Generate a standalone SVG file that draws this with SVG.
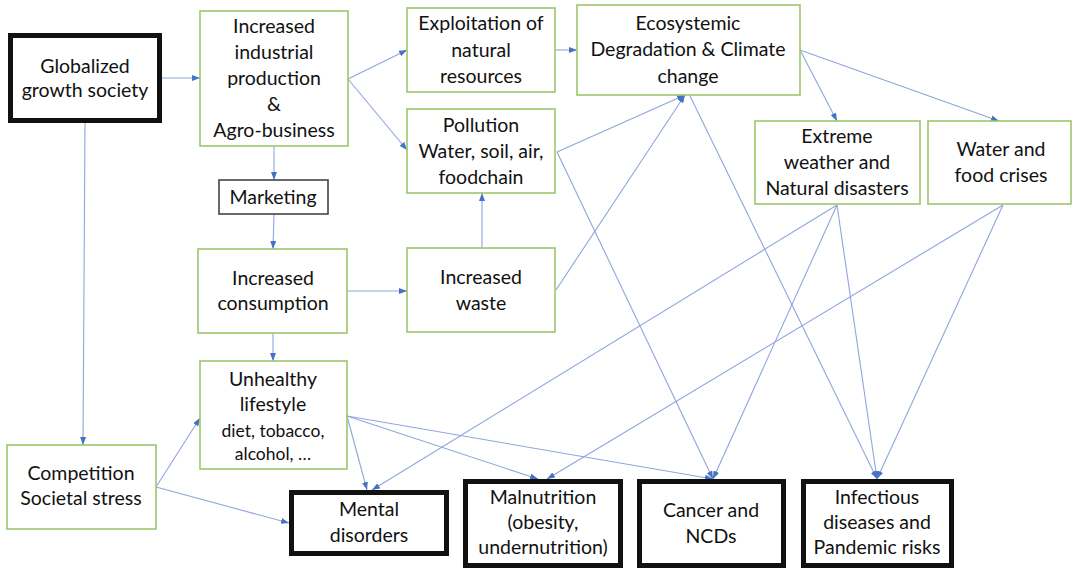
<svg xmlns="http://www.w3.org/2000/svg" width="1073" height="569" viewBox="0 0 1073 569">
<defs>
<marker id="ah" viewBox="0 0 8 6" refX="8" refY="3" markerWidth="8" markerHeight="6" markerUnits="userSpaceOnUse" orient="auto">
<path d="M0,0 L8,3 L0,6 Z" fill="#4472c4"/>
</marker>
</defs>
<style>
.g{fill:#fff;stroke:#9cc66b;stroke-width:1.6}
.k{fill:#fff;stroke:#111;stroke-width:5}
.m{fill:#fff;stroke:#444;stroke-width:1.6}
text{font-family:Lato,"Open Sans","Liberation Sans",sans-serif;font-size:19.5px;fill:#111;text-anchor:middle}
.s{font-size:17.5px}
#connectors line{stroke:#8ea6dd;stroke-width:1.1;fill:none;marker-end:url(#ah)}
</style>
<rect width="1073" height="569" fill="#fff"/>
<g id="connectors">
<line x1="162" y1="78" x2="200" y2="78"/>
<line x1="85" y1="123" x2="83" y2="445"/>
<line x1="348" y1="79" x2="407" y2="50"/>
<line x1="348" y1="79" x2="407" y2="150"/>
<line x1="274" y1="146" x2="274" y2="180"/>
<line x1="274" y1="214" x2="273" y2="249"/>
<line x1="273" y1="333" x2="273" y2="361"/>
<line x1="347" y1="291" x2="407" y2="291"/>
<line x1="482" y1="248" x2="482" y2="193"/>
<line x1="555" y1="50" x2="577" y2="50"/>
<line x1="557" y1="152" x2="685" y2="95"/>
<line x1="556" y1="290" x2="685" y2="95"/>
<line x1="800" y1="50" x2="837" y2="121"/>
<line x1="800" y1="50" x2="999" y2="121"/>
<line x1="690" y1="96" x2="877" y2="479"/>
<line x1="557" y1="152" x2="713" y2="479"/>
<line x1="837" y1="205" x2="372" y2="490"/>
<line x1="837" y1="205" x2="713" y2="479"/>
<line x1="837" y1="205" x2="877" y2="479"/>
<line x1="1003" y1="205" x2="547" y2="479"/>
<line x1="1003" y1="205" x2="877" y2="479"/>
<line x1="347" y1="416" x2="367" y2="490"/>
<line x1="347" y1="416" x2="538" y2="479"/>
<line x1="347" y1="416" x2="713" y2="479"/>
<line x1="156" y1="487" x2="200" y2="418"/>
<line x1="156" y1="487" x2="289" y2="523"/>
</g>
<g id="globalized">
<rect class="k" x="10.5" y="35.5" width="149" height="85"/>
<text x="85" y="73">Globalized</text>
<text x="85" y="97">growth society</text>
</g>
<g id="industrial">
<rect class="g" x="200" y="11" width="148" height="135"/>
<text x="274" y="33">Increased</text>
<text x="274" y="59">industrial</text>
<text x="274" y="85">production</text>
<text x="274" y="111">&amp;</text>
<text x="274" y="137">Agro-business</text>
</g>
<g id="marketing">
<rect class="m" x="219" y="180" width="109" height="34"/>
<text x="273" y="204">Marketing</text>
</g>
<g id="consumption">
<rect class="g" x="198" y="249" width="149" height="84"/>
<text x="273" y="285">Increased</text>
<text x="273" y="310">consumption</text>
</g>
<g id="unhealthy">
<rect class="g" x="200" y="361" width="147" height="108"/>
<text x="273" y="386">Unhealthy</text>
<text x="273" y="411">lifestyle</text>
<text class="s" x="273" y="437">diet, tobacco,</text>
<text class="s" x="273" y="460">alcohol, …</text>
</g>
<g id="competition">
<rect class="g" x="7" y="445" width="149" height="84"/>
<text x="81" y="480">Competition</text>
<text x="81" y="505">Societal stress</text>
</g>
<g id="exploitation">
<rect class="g" x="407" y="8" width="148" height="84"/>
<text x="481" y="30">Exploitation of</text>
<text x="481" y="57">natural</text>
<text x="481" y="83">resources</text>
</g>
<g id="pollution">
<rect class="g" x="407" y="109" width="148" height="84"/>
<text x="481" y="132">Pollution</text>
<text x="481" y="158">Water, soil, air,</text>
<text x="481" y="184">foodchain</text>
</g>
<g id="waste">
<rect class="g" x="407" y="248" width="148" height="84"/>
<text x="481" y="284">Increased</text>
<text x="481" y="310">waste</text>
</g>
<g id="ecosystemic">
<rect class="g" x="577" y="5" width="223" height="90"/>
<text x="688" y="30">Ecosystemic</text>
<text x="688" y="56">Degradation &amp; Climate</text>
<text x="688" y="83">change</text>
</g>
<g id="extreme">
<rect class="g" x="755" y="121" width="165" height="83"/>
<text x="837" y="143">Extreme</text>
<text x="837" y="169">weather and</text>
<text x="837" y="195">Natural disasters</text>
</g>
<g id="water">
<rect class="g" x="928" y="121" width="143" height="83"/>
<text x="1001" y="156">Water and</text>
<text x="1001" y="182">food crises</text>
</g>
<g id="mental">
<rect class="k" x="291.5" y="492.5" width="155" height="61"/>
<text x="369" y="516">Mental</text>
<text x="369" y="542">disorders</text>
</g>
<g id="malnutrition">
<rect class="k" x="465.5" y="481.5" width="155" height="84"/>
<text x="543" y="504">Malnutrition</text>
<text x="543" y="529">(obesity,</text>
<text x="543" y="554">undernutrition)</text>
</g>
<g id="cancer">
<rect class="k" x="639.5" y="481.5" width="144" height="84"/>
<text x="711" y="517">Cancer and</text>
<text x="711" y="543">NCDs</text>
</g>
<g id="infectious">
<rect class="k" x="803.5" y="481.5" width="148" height="84"/>
<text x="877" y="504">Infectious</text>
<text x="877" y="529">diseases and</text>
<text x="877" y="554">Pandemic risks</text>
</g>
</svg>
